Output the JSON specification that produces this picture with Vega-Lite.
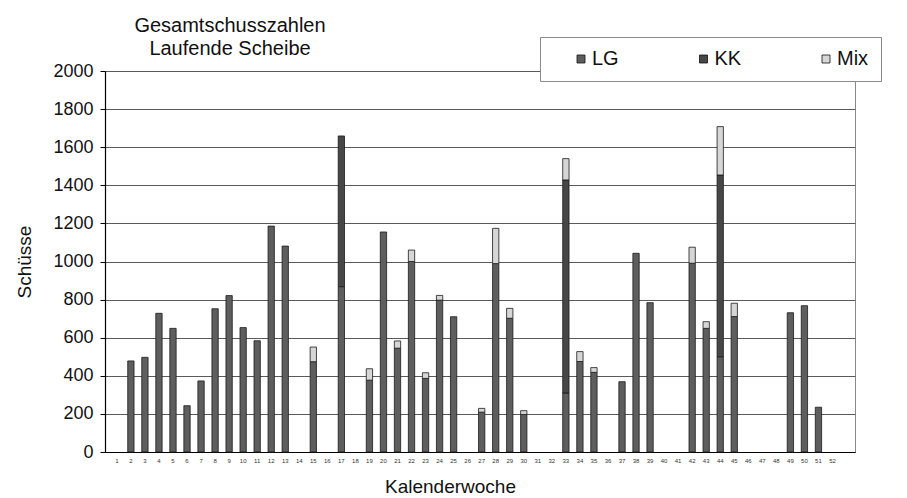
{
  "$schema": "https://vega.github.io/schema/vega-lite/v6.json",
  "width": 750,
  "height": 381,
  "autosize": {"type": "none"},
  "padding": {"left": 105, "top": 71, "right": 52, "bottom": 46},
  "background": "white",
  "title": {
    "text": ["Gesamtschusszahlen", "Laufende Scheibe"],
    "anchor": "start",
    "frame": "group",
    "align": "center",
    "dx": 125,
    "dy": 36,
    "offset": 14,
    "fontSize": 20,
    "lineHeight": 23,
    "fontWeight": "normal",
    "font": "Liberation Sans",
    "color": "#111"
  },
  "data": {
    "values": [
      {"week": 2, "type": "LG", "rank": 1, "count": 478},
      {"week": 3, "type": "LG", "rank": 1, "count": 497},
      {"week": 4, "type": "LG", "rank": 1, "count": 728},
      {"week": 5, "type": "LG", "rank": 1, "count": 649},
      {"week": 6, "type": "LG", "rank": 1, "count": 243},
      {"week": 7, "type": "LG", "rank": 1, "count": 373},
      {"week": 8, "type": "LG", "rank": 1, "count": 752},
      {"week": 9, "type": "LG", "rank": 1, "count": 821},
      {"week": 10, "type": "LG", "rank": 1, "count": 653},
      {"week": 11, "type": "LG", "rank": 1, "count": 584},
      {"week": 12, "type": "LG", "rank": 1, "count": 1186},
      {"week": 13, "type": "LG", "rank": 1, "count": 1081},
      {"week": 15, "type": "LG", "rank": 1, "count": 474},
      {"week": 15, "type": "Mix", "rank": 3, "count": 77},
      {"week": 17, "type": "LG", "rank": 1, "count": 868},
      {"week": 17, "type": "KK", "rank": 2, "count": 791},
      {"week": 19, "type": "LG", "rank": 1, "count": 377},
      {"week": 19, "type": "Mix", "rank": 3, "count": 60},
      {"week": 20, "type": "LG", "rank": 1, "count": 1155},
      {"week": 21, "type": "LG", "rank": 1, "count": 545},
      {"week": 21, "type": "Mix", "rank": 3, "count": 38},
      {"week": 22, "type": "LG", "rank": 1, "count": 1000},
      {"week": 22, "type": "Mix", "rank": 3, "count": 60},
      {"week": 23, "type": "LG", "rank": 1, "count": 386},
      {"week": 23, "type": "Mix", "rank": 3, "count": 30},
      {"week": 24, "type": "LG", "rank": 1, "count": 797},
      {"week": 24, "type": "Mix", "rank": 3, "count": 25},
      {"week": 25, "type": "LG", "rank": 1, "count": 710},
      {"week": 27, "type": "LG", "rank": 1, "count": 209},
      {"week": 27, "type": "Mix", "rank": 3, "count": 20},
      {"week": 28, "type": "LG", "rank": 1, "count": 989},
      {"week": 28, "type": "Mix", "rank": 3, "count": 185},
      {"week": 29, "type": "LG", "rank": 1, "count": 702},
      {"week": 29, "type": "Mix", "rank": 3, "count": 52},
      {"week": 30, "type": "LG", "rank": 1, "count": 197},
      {"week": 30, "type": "Mix", "rank": 3, "count": 20},
      {"week": 33, "type": "LG", "rank": 1, "count": 310},
      {"week": 33, "type": "KK", "rank": 2, "count": 1118},
      {"week": 33, "type": "Mix", "rank": 3, "count": 112},
      {"week": 34, "type": "LG", "rank": 1, "count": 475},
      {"week": 34, "type": "Mix", "rank": 3, "count": 52},
      {"week": 35, "type": "LG", "rank": 1, "count": 418},
      {"week": 35, "type": "Mix", "rank": 3, "count": 25},
      {"week": 37, "type": "LG", "rank": 1, "count": 369},
      {"week": 38, "type": "LG", "rank": 1, "count": 1043},
      {"week": 39, "type": "LG", "rank": 1, "count": 784},
      {"week": 42, "type": "LG", "rank": 1, "count": 991},
      {"week": 42, "type": "Mix", "rank": 3, "count": 84},
      {"week": 43, "type": "LG", "rank": 1, "count": 649},
      {"week": 43, "type": "Mix", "rank": 3, "count": 35},
      {"week": 44, "type": "LG", "rank": 1, "count": 500},
      {"week": 44, "type": "KK", "rank": 2, "count": 954},
      {"week": 44, "type": "Mix", "rank": 3, "count": 254},
      {"week": 45, "type": "LG", "rank": 1, "count": 711},
      {"week": 45, "type": "Mix", "rank": 3, "count": 70},
      {"week": 49, "type": "LG", "rank": 1, "count": 731},
      {"week": 50, "type": "LG", "rank": 1, "count": 768},
      {"week": 51, "type": "LG", "rank": 1, "count": 235}
    ]
  },
  "mark": {"type": "bar", "stroke": "#1a1a1a", "strokeWidth": 0.8},
  "encoding": {
    "x": {
      "field": "week",
      "type": "ordinal",
      "scale": {
        "domain": [1,2,3,4,5,6,7,8,9,10,11,12,13,14,15,16,17,18,19,20,21,22,23,24,25,26,27,28,29,30,31,32,33,34,35,36,37,38,39,40,41,42,43,44,45,46,47,48,49,50,51,52],
        "paddingInner": 0.55,
        "paddingOuter": 1.1,
        "align": 0.31
      },
      "axis": {
        "title": "Kalenderwoche",
        "titleFontSize": 19,
        "titleFontWeight": "normal",
        "titleColor": "#111",
        "titlePadding": 14,
        "titleX": 345,
        "labelAngle": 0,
        "labelFontSize": 6,
        "labelColor": "#333",
        "labelPadding": 5,
        "ticks": false,
        "domainColor": "#000",
        "domainWidth": 1.2,
        "grid": false
      }
    },
    "y": {
      "field": "count",
      "type": "quantitative",
      "stack": "zero",
      "scale": {"domain": [0, 2000], "nice": false},
      "axis": {
        "title": "Schüsse",
        "titleFontSize": 19,
        "titleFontWeight": "normal",
        "titleColor": "#111",
        "titlePadding": 18,
        "format": "d",
        "values": [0,200,400,600,800,1000,1200,1400,1600,1800,2000],
        "labelFontSize": 18,
        "labelColor": "#111",
        "labelPadding": 7,
        "tickSize": 5,
        "tickColor": "#000",
        "domainColor": "#000",
        "domainWidth": 1.2,
        "grid": true,
        "gridColor": "#5a5a5a",
        "gridWidth": 1.1
      }
    },
    "order": {"field": "rank", "type": "quantitative", "sort": "ascending"},
    "color": {
      "field": "type",
      "type": "nominal",
      "scale": {"domain": ["LG", "KK", "Mix"], "range": ["#5e5e5e", "#474747", "#d6d6d6"]},
      "legend": {
        "title": " ",
        "titleOrient": "left",
        "titleFontSize": 20,
        "titlePadding": 19,
        "orient": "none",
        "legendX": 435,
        "legendY": -34,
        "direction": "horizontal",
        "columns": 3,
        "columnPadding": 74.5,
        "padding": 12,
        "fillColor": "white",
        "strokeColor": "#8a8a8a",
        "labelFontSize": 20,
        "labelColor": "#111",
        "labelOffset": 1,
        "symbolType": "square",
        "symbolSize": 64,
        "symbolStrokeColor": "#111",
        "symbolStrokeWidth": 0.8
      }
    }
  },
  "config": {
    "font": "Liberation Sans",
    "view": {"stroke": "#8a8a8a"}
  }
}
